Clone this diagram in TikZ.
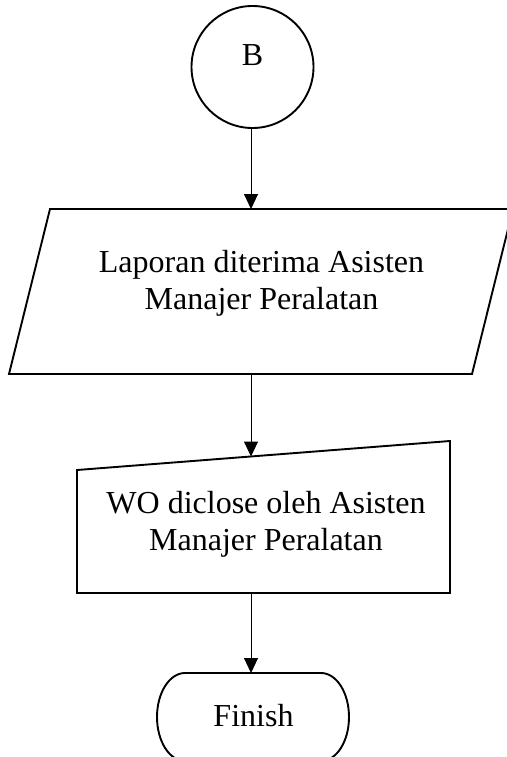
\documentclass[tikz,border=0pt]{standalone}
\usepackage{fontspec}
\setmainfont{Liberation Serif}
\usetikzlibrary{arrows.meta}
\begin{document}
\begin{tikzpicture}[x=1pt,y=-1pt,
  shapeline/.style={draw=black,line width=1.9pt,line join=miter},
  conn/.style={draw=black,line width=1pt,-{Triangle[length=15pt,width=14pt]}},
  lbl/.style={inner sep=0pt,align=center,font=\fontsize{32}{37}\selectfont}]
\useasboundingbox (0,0) rectangle (506,757);
\fill[white] (0,0) rectangle (506,757);
% connector B
\node[circle,draw=black,line width=1.9pt,minimum size=122pt,inner sep=0pt] (B) at (252.5,67) {};
\node[lbl] (Btxt) at (252.5,55.5) {B};
% parallelogram
\draw[shapeline] (50,209) -- (513,209) -- (472,374) -- (9,374) -- cycle;
\coordinate (P1top) at (251,209);
\coordinate (P1bot) at (251,374);
\node[lbl] (P1) at (261.5,283) {Laporan diterima Asisten\\Manajer Peralatan};
% manual input
\draw[shapeline] (77,470) -- (450,441) -- (450,593) -- (77,593) -- cycle;
\coordinate (M1top) at (251,456.5);
\coordinate (M1bot) at (251,593);
\node[lbl] (M1) at (266,524) {WO diclose oleh Asisten\\Manajer Peralatan};
% terminal
\draw[shapeline] (185,673) -- (321,673)
  .. controls (336.5,673) and (349,692.7) .. (349,717)
  .. controls (349,741.3) and (336.5,761) .. (321,761)
  -- (185,761)
  .. controls (169.5,761) and (157,741.3) .. (157,717)
  .. controls (157,692.7) and (169.5,673) .. cycle;
\coordinate (Ttop) at (251,673);
\node[lbl] (T) at (253.5,716) {Finish};
% connectors
\draw[conn] (B.south -| P1top) -- (P1top);
\draw[conn] (P1bot) -- (M1top);
\draw[conn] (M1bot) -- (Ttop);
\end{tikzpicture}
\end{document}
